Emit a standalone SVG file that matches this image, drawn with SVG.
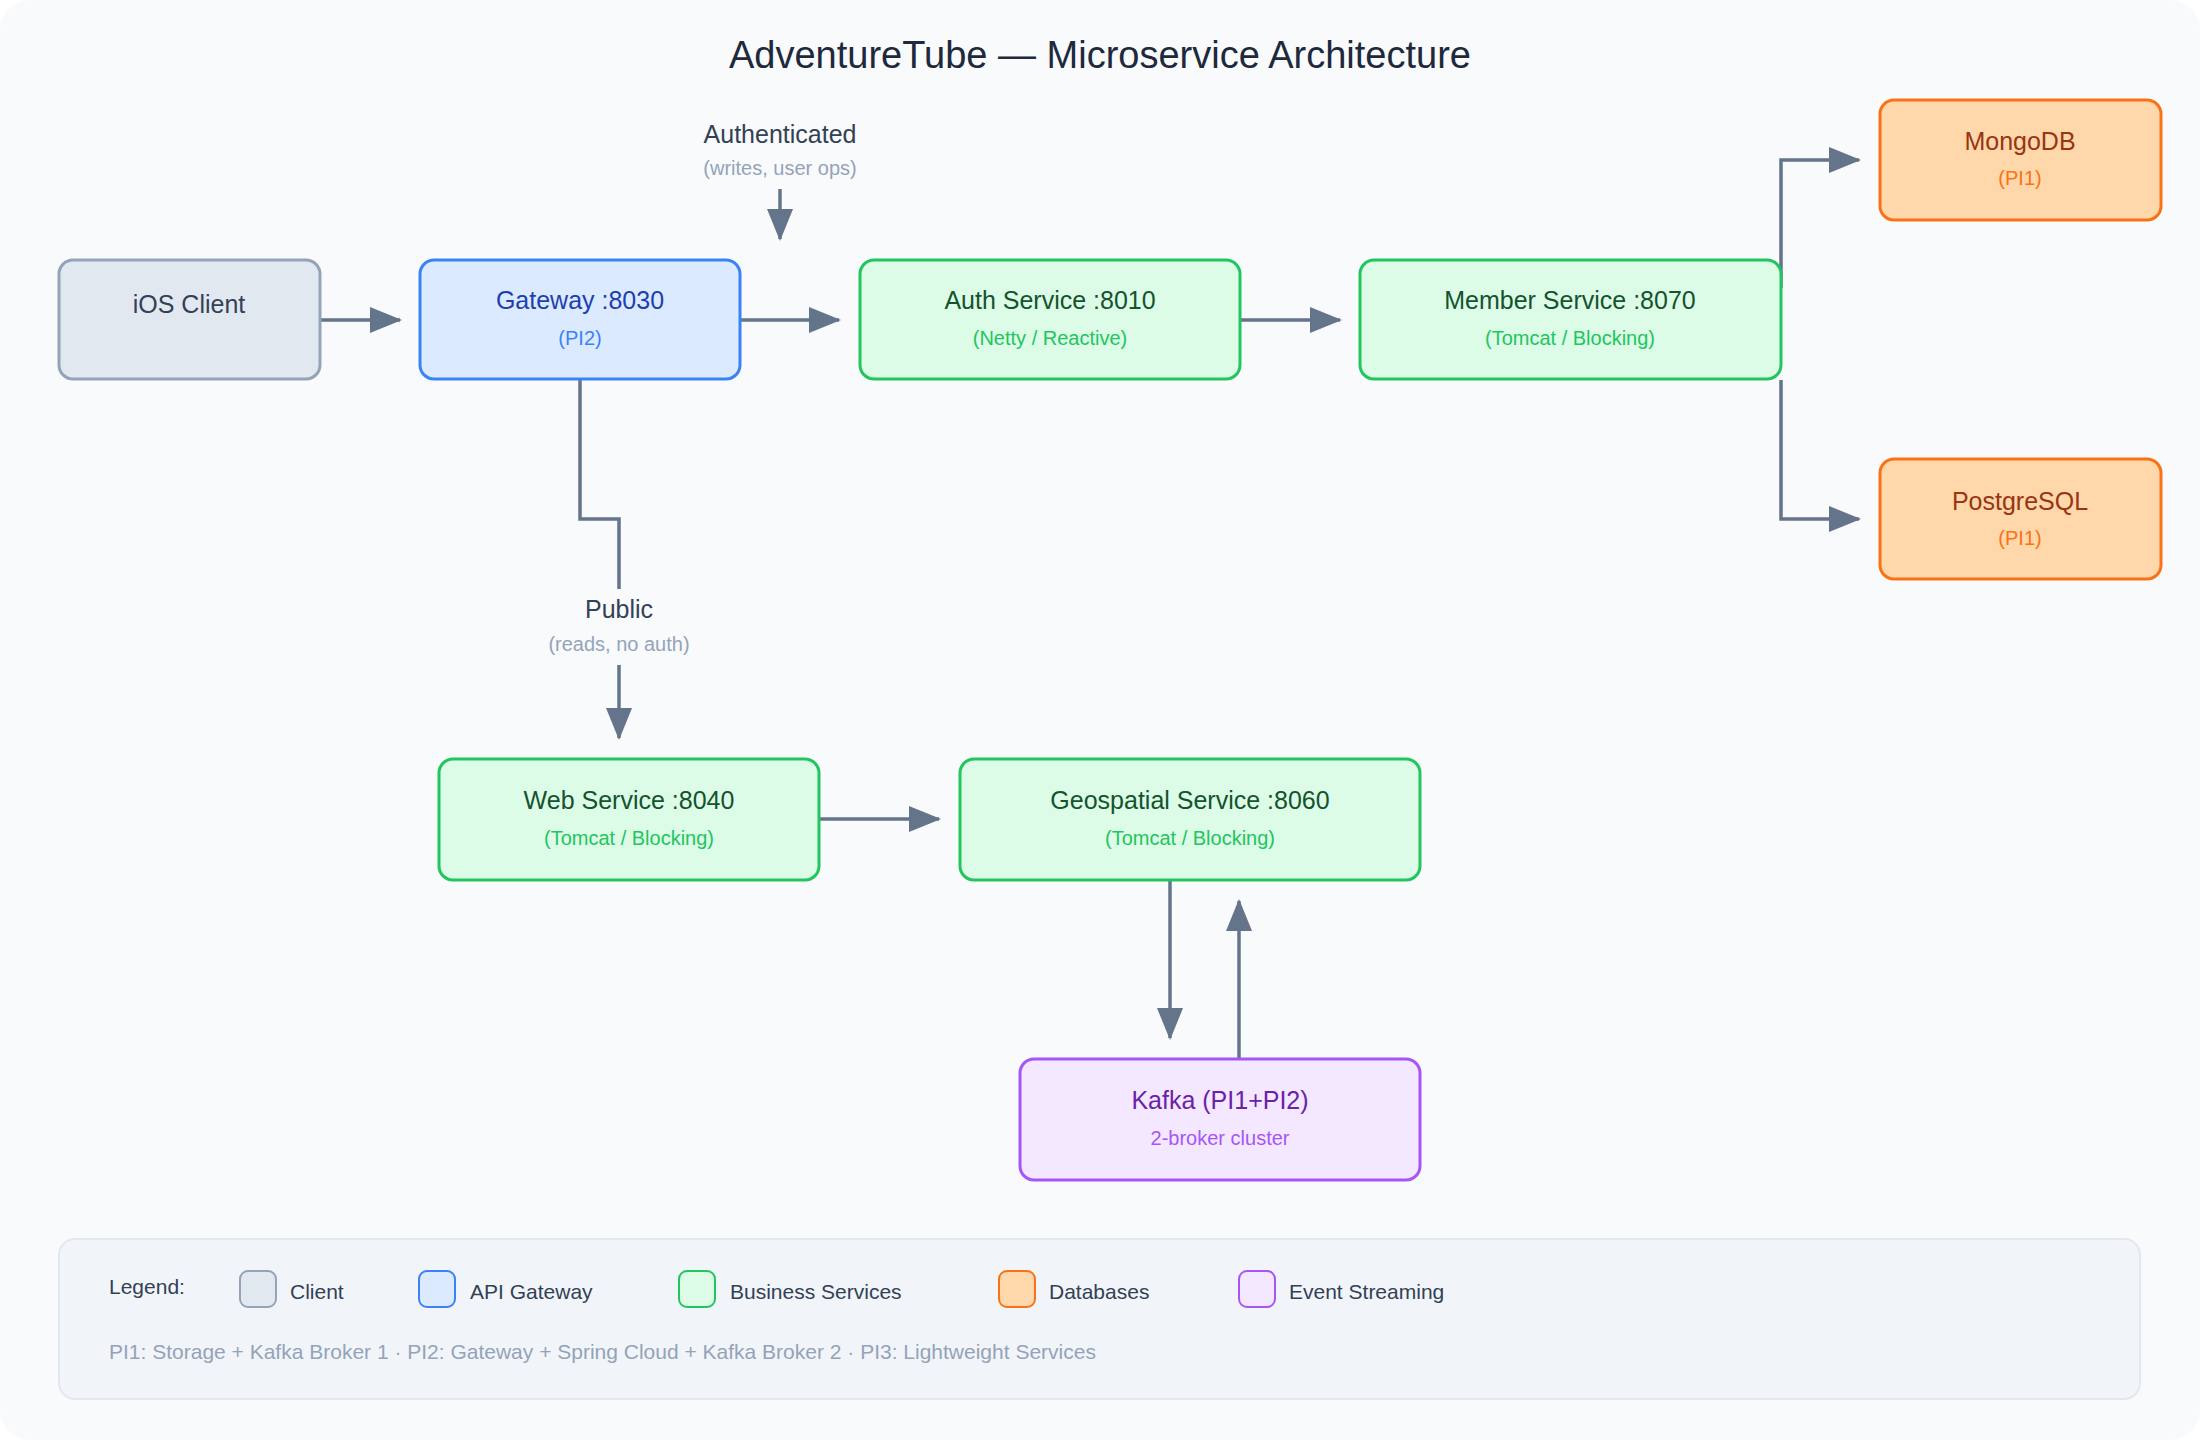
<svg xmlns="http://www.w3.org/2000/svg" width="2200" height="1440" viewBox="0 0 2200 1440">
<style>
text{font-family:"Liberation Sans",Arial,sans-serif;text-anchor:middle}
.t{font-size:25px}.s{font-size:20px}
.c{stroke:#64748b;stroke-width:3.5;fill:none}
.lg{font-size:21px;fill:#334155;text-anchor:start}
</style>
<defs>
<marker id="a" markerUnits="userSpaceOnUse" markerWidth="32" markerHeight="26" refX="30" refY="13" orient="auto"><path d="M0,0L32,13L0,26Z" fill="#64748b"/></marker>
</defs>
<rect x="0" y="0" width="2200" height="1440" rx="30" fill="#f8fafc"/>
<text x="1100" y="68" font-size="38" fill="#1e293b">AdventureTube — Microservice Architecture</text>
<g id="connectors">
<path class="c" d="M320,320H400" marker-end="url(#a)"/>
<path class="c" d="M740,320H839" marker-end="url(#a)"/>
<path class="c" d="M1240,320H1340" marker-end="url(#a)"/>
<path class="c" d="M780,189V239" marker-end="url(#a)"/>
<path class="c" d="M1781,288V160H1859" marker-end="url(#a)"/>
<path class="c" d="M1781,380V519H1859" marker-end="url(#a)"/>
<path class="c" d="M580,379V519H619V589"/>
<path class="c" d="M619,665V738" marker-end="url(#a)"/>
<path class="c" d="M819,819H939" marker-end="url(#a)"/>
<path class="c" d="M1170,880V1038" marker-end="url(#a)"/>
<path class="c" d="M1239,1059V901" marker-end="url(#a)"/>
<text x="780" y="143" font-size="25" fill="#334155">Authenticated</text>
<text x="780" y="175" font-size="20" fill="#94a3b8">(writes, user ops)</text>
<text x="619" y="618" font-size="25" fill="#334155">Public</text>
<text x="619" y="651" font-size="20" fill="#94a3b8">(reads, no auth)</text>
</g>
<g id="ios"><rect x="59" y="260" width="261" height="119" rx="14" fill="#e2e8f0" stroke="#94a3b8" stroke-width="3"/><text class="t" x="189" y="313" fill="#334155">iOS Client</text></g>
<g id="gateway"><rect x="420" y="260" width="320" height="119" rx="14" fill="#dbeafe" stroke="#3b82f6" stroke-width="3"/><text class="t" x="580" y="309" fill="#1e40af">Gateway :8030</text><text class="s" x="580" y="345" fill="#3b82f6">(PI2)</text></g>
<g id="auth"><rect x="860" y="260" width="380" height="119" rx="14" fill="#dcfce7" stroke="#22c55e" stroke-width="3"/><text class="t" x="1050" y="309" fill="#14532d">Auth Service :8010</text><text class="s" x="1050" y="345" fill="#22c55e">(Netty / Reactive)</text></g>
<g id="member"><rect x="1360" y="260" width="421" height="119" rx="14" fill="#dcfce7" stroke="#22c55e" stroke-width="3"/><text class="t" x="1570" y="309" fill="#14532d">Member Service :8070</text><text class="s" x="1570" y="345" fill="#22c55e">(Tomcat / Blocking)</text></g>
<g id="mongo"><rect x="1880" y="100" width="281" height="120" rx="14" fill="#fed7aa" stroke="#f97316" stroke-width="3"/><text class="t" x="2020" y="150" fill="#9a3412">MongoDB</text><text class="s" x="2020" y="185" fill="#f97316">(PI1)</text></g>
<g id="postgres"><rect x="1880" y="459" width="281" height="120" rx="14" fill="#fed7aa" stroke="#f97316" stroke-width="3"/><text class="t" x="2020" y="510" fill="#9a3412">PostgreSQL</text><text class="s" x="2020" y="545" fill="#f97316">(PI1)</text></g>
<g id="web"><rect x="439" y="759" width="380" height="121" rx="14" fill="#dcfce7" stroke="#22c55e" stroke-width="3"/><text class="t" x="629" y="809" fill="#14532d">Web Service :8040</text><text class="s" x="629" y="845" fill="#22c55e">(Tomcat / Blocking)</text></g>
<g id="geo"><rect x="960" y="759" width="460" height="121" rx="14" fill="#dcfce7" stroke="#22c55e" stroke-width="3"/><text class="t" x="1190" y="809" fill="#14532d">Geospatial Service :8060</text><text class="s" x="1190" y="845" fill="#22c55e">(Tomcat / Blocking)</text></g>
<g id="kafka"><rect x="1020" y="1059" width="400" height="121" rx="14" fill="#f3e8ff" stroke="#a855f7" stroke-width="3"/><text class="t" x="1220" y="1109" fill="#6b21a8">Kafka (PI1+PI2)</text><text class="s" x="1220" y="1145" fill="#a855f7">2-broker cluster</text></g>
<g id="legend">
<rect x="59" y="1239" width="2081" height="160" rx="16" fill="#f1f5f9" stroke="#e2e8f0" stroke-width="2"/>
<text class="lg" x="109" y="1294" font-size="22">Legend:</text>
<rect x="240" y="1271" width="36" height="36" rx="8" fill="#e2e8f0" stroke="#94a3b8" stroke-width="2"/><text class="lg" x="290" y="1299">Client</text>
<rect x="419" y="1271" width="36" height="36" rx="8" fill="#dbeafe" stroke="#3b82f6" stroke-width="2"/><text class="lg" x="470" y="1299">API Gateway</text>
<rect x="679" y="1271" width="36" height="36" rx="8" fill="#dcfce7" stroke="#22c55e" stroke-width="2"/><text class="lg" x="730" y="1299">Business Services</text>
<rect x="999" y="1271" width="36" height="36" rx="8" fill="#fed7aa" stroke="#f97316" stroke-width="2"/><text class="lg" x="1049" y="1299">Databases</text>
<rect x="1239" y="1271" width="36" height="36" rx="8" fill="#f3e8ff" stroke="#a855f7" stroke-width="2"/><text class="lg" x="1289" y="1299">Event Streaming</text>
<text class="lg" x="109" y="1359" fill="#94a3b8" style="fill:#94a3b8">PI1: Storage + Kafka Broker 1 · PI2: Gateway + Spring Cloud + Kafka Broker 2 · PI3: Lightweight Services</text>
</g>
</svg>
